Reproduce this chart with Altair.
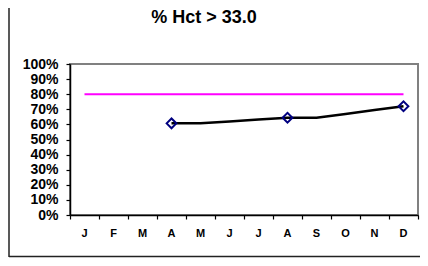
import altair as alt
import pandas as pd

title_text = "% Hct > 33.0"
months = ["J", "F", "M", "A", "M", "J", "J", "A", "S", "O", "N", "D"]
pct = [None, None, None, 60.7, 60.7, 61.9, 63.2, 64.4, 64.4, 66.9, 69.5, 72.0]
marker_idx = [3, 7, 11]
marker_val = [60.7, 64.4, 72.0]
target = [80] * 12
y_ticks = [0, 10, 20, 30, 40, 50, 60, 70, 80, 90, 100]
x_ticks = list(range(13))

FONT = "Liberation Sans"

df = pd.DataFrame({
    "pos": [i + 0.5 for i in range(12)],
    "month": months,
    "pct": pct,
    "target": target,
})
dm = pd.DataFrame({"pos": [i + 0.5 for i in marker_idx], "pct": marker_val})
one = pd.DataFrame({"t": [title_text]})

xs = alt.Scale(domain=[0, 12], nice=False, zero=False)
ys = alt.Scale(domain=[0, 100], nice=False)

x_axis = alt.Axis(values=x_ticks, labels=False, title=None)
y_axis = alt.Axis(values=y_ticks, labelExpr="datum.value + '%'", title=None)

X = alt.X("pos:Q", scale=xs, axis=x_axis)

base = alt.Chart(df)

target_line = base.mark_line(color="#FF00FF", strokeWidth=2).encode(
    x=X, y=alt.Y("target:Q", scale=ys, axis=y_axis),
)

data_line = base.transform_filter("isValid(datum.pct)").mark_line(
    color="black", strokeWidth=2.5).encode(
    x=X, y=alt.Y("pct:Q", scale=ys, axis=y_axis),
)

markers = alt.Chart(dm).mark_point(
    shape="diamond", filled=False, color="#000080", strokeWidth=2, size=95,
    opacity=1).encode(
    x=X, y=alt.Y("pct:Q", scale=ys, axis=y_axis),
)

month_labels = base.mark_text(font=FONT, fontWeight="bold", fontSize=11,
                              color="black", baseline="middle").encode(
    x=X, y=alt.value(170), text="month:N",
)

title = alt.Chart(one).mark_text(font=FONT, fontWeight="bold", fontSize=18,
                                 color="black", baseline="alphabetic",
                                 align="center").encode(
    x=alt.value(134), y=alt.value(-41), text="t:N")

frame_left = alt.Chart(one).mark_rule(color="#222222", strokeWidth=1.5).encode(
    x=alt.value(-61), y=alt.value(-57), y2=alt.value(193))
frame_bottom = alt.Chart(one).mark_rule(color="#222222", strokeWidth=1.5).encode(
    x=alt.value(-61), x2=alt.value(352), y=alt.value(192.5))

chart = alt.layer(
    target_line, data_line, markers, month_labels, title, frame_left, frame_bottom
).properties(
    width=348, height=151,
    autosize=alt.AutoSizeParams(type="none"),
    padding={"left": 62, "top": 56, "right": 2, "bottom": 43},
    background="white",
).configure_view(
    stroke="#808080", strokeWidth=2
).configure_axis(
    grid=False, ticks=True, tickColor="black", tickSize=4, tickWidth=1.2,
    tickOpacity=1, domainColor="black", domainWidth=1.5,
    labelFont=FONT, labelFontWeight="bold", labelFontSize=14,
    labelColor="black", labelPadding=8, labelOverlap=False,
    labelFlush=False, labelBound=False,
)

chart.save("out.html", embed_options={"renderer": "svg", "actions": False})
